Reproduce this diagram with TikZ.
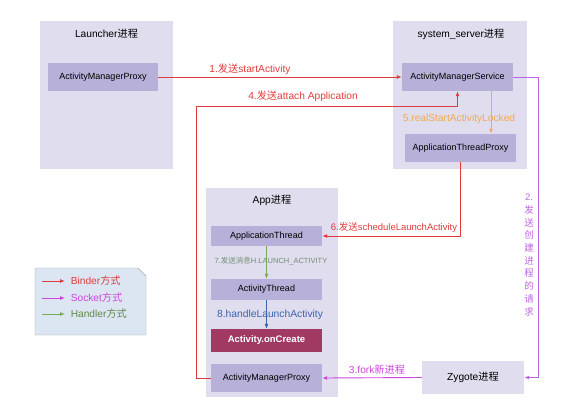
\documentclass[tikz,border=0pt]{standalone}
\usepackage{fontspec}
\setmainfont{Liberation Sans}
\newfontfamily\cjk{Noto Sans CJK SC}
\usepackage{xcolor}
\usetikzlibrary{arrows.meta, positioning, calc}

\definecolor{procfill}{RGB}{224,221,238}
\definecolor{objfill}{RGB}{183,176,217}
\definecolor{createfill}{RGB}{161,58,99}
\definecolor{legendfill}{RGB}{220,230,242}
\definecolor{binderred}{RGB}{222,60,60}
\definecolor{socketmag}{RGB}{205,70,220}
\definecolor{socketpur}{RGB}{190,100,225}
\definecolor{handlergreen}{RGB}{120,170,90}
\definecolor{lockorange}{RGB}{240,170,80}
\definecolor{handleblue}{RGB}{60,100,170}

\begin{document}
\begin{tikzpicture}[
          x=1pt, y=-1pt,
          proc/.style={fill=procfill, minimum width=#1, inner sep=0pt},
          obj/.style={fill=objfill, minimum width=111pt, inner sep=0pt, font=\fontsize{9}{10}\selectfont},
          title/.style={font=\fontsize{10.2}{12}\selectfont},
          lbl/.style={font=\fontsize{10.2}{12}\selectfont},
          tip/.style={-{Latex[length=5pt,width=4pt]}},
          binder/.style={tip, draw=binderred, line width=0.9pt},
          socket/.style={tip, draw=socketmag, line width=0.9pt},
          handler/.style={tip, draw=handlergreen, line width=0.9pt}
        ]
          \useasboundingbox (0,0) rectangle (581,407);
          % processes
          \node[proc=133pt, minimum height=148pt] (launcher) at (106.5,95) {};
          \node[proc=134pt, minimum height=148pt] (server) at (460,95) {};
          \node[proc=132pt, minimum height=209pt] (app) at (272,292.5) {};
          \node[proc=102pt, minimum height=33pt, title] (zygote) at (473,377.5) {Zygote{\cjk 进程}};
          \node[title] (launchertitle) at (106.5,34) {Launcher{\cjk 进程}};
          \node[title] (servertitle) at (461,34) {system\_server{\cjk 进程}};
          \node[title] (apptitle) at (272,200) {App{\cjk 进程}};
          % objects
          \node[obj, minimum width=110pt, minimum height=28pt] (lamp) at (103,77) {ActivityManagerProxy};
          \node[obj, minimum height=28pt] (ams) at (457.5,77) {ActivityManagerService};
          \node[obj, minimum height=28pt] (atp) at (460.5,148) {ApplicationThreadProxy};
          \node[obj, minimum height=20pt] (athread) at (266.5,236) {ApplicationThread};
          \node[obj, minimum height=21pt] (actthread) at (266.5,289.5) {ActivityThread};
          \node[obj, minimum height=23pt, fill=createfill, text=white, font=\fontsize{9.5}{11}\selectfont\bfseries] (oncreate) at (266.5,340.5) {Activity.onCreate};
          \node[obj, minimum height=28pt] (aamp) at (266.5,378) {ActivityManagerProxy};
          % calls
          \draw[binder] (lamp.east) -- (ams.west);
          \node[lbl, text=binderred] at (250,69) {1.{\cjk 发送}startActivity};
          \draw[tip, draw=socketpur, line width=0.9pt] (ams.east) -- ++(25,0) |- (zygote.east);
          \node[lbl, text=socketpur, align=center, font=\fontsize{9.5}{12.7}\selectfont] at (529,255)
            {2.\\{\cjk 发}\\{\cjk 送}\\{\cjk 创}\\{\cjk 建}\\{\cjk 进}\\{\cjk 程}\\{\cjk 的}\\{\cjk 请}\\{\cjk 求}};
          \draw[socket] (zygote.west) -- (aamp.east);
          \node[lbl, text=socketmag] at (377,370) {3.fork{\cjk 新进程}};
          \draw[binder] (aamp.west) -- ++(-14,0) |- ([yshift=-15pt]ams.south) -- (ams.south);
          \node[lbl, text=binderred] at (303,96) {4.{\cjk 发送}attach Application};
          \draw[tip, draw=lockorange, line width=0.9pt] ([xshift=33.5pt]ams.south) -- ([xshift=30.5pt]atp.north);
          \node[lbl, text=lockorange] at (459,119) {5.realStartActivityLocked};
          \draw[binder] (atp.south) |- (athread.east);
          \node[lbl, text=binderred, font=\fontsize{9.5}{11}\selectfont] at (394,227) {6.{\cjk 发送}scheduleLaunchActivity};
          \draw[handler] (athread.south) -- (actthread.north);
          \node[text=gray!90!green, font=\fontsize{7.5}{9}\selectfont] at (271,261) {7.{\cjk 发送消息}H.LAUNCH\_ACTIVITY};
          \draw[tip, draw=handleblue, line width=0.7pt] (actthread.south) -- (oncreate.north);
          \node[text=handleblue, font=\fontsize{10.3}{12}\selectfont] at (270,315) {8.handleLaunchActivity};
          % legend
          \draw[gray!70, fill=legendfill] (35,268) -- (138,268) -- (146,276) -- (146,335) -- (35,335) -- cycle;
          \coordinate (bstart) at (42,281);
          \coordinate (sstart) at (42,298);
          \coordinate (hstart) at (42,314);
          \draw[binder] (bstart) -- ++(23,0) node[right=2pt, lbl, text=binderred] {Binder{\cjk 方式}};
          \draw[socket] (sstart) -- ++(23,0) node[right=2pt, lbl, text=socketmag] {Socket{\cjk 方式}};
          \draw[handler] (hstart) -- ++(23,0) node[right=2pt, lbl, text=handlergreen!80!black] {Handler{\cjk 方式}};
        \end{tikzpicture}
\end{document}
